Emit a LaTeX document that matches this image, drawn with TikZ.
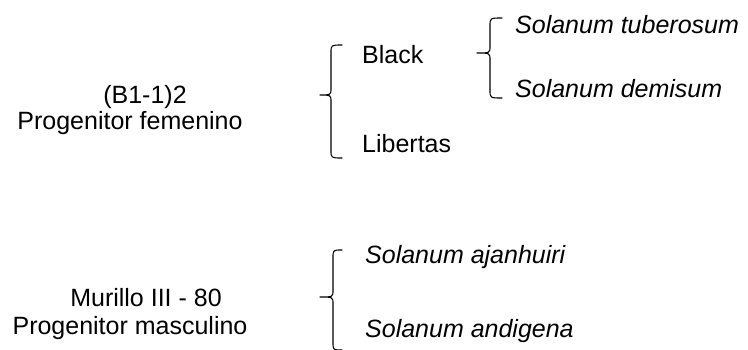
\documentclass[tikz,border=0pt]{standalone}
\usepackage{fontspec}
\setmainfont{Liberation Sans}
\newcommand\mybrace[7]{% name, x tip, x stem, x end, y top, y tip, y bottom
  \draw[bracestyle] (#4,#5) .. controls (#3,#5) .. (#3,#5+8)
    -- (#3,#6-7) .. controls (#3,#6) .. (#2,#6)
    .. controls (#3,#6) .. (#3,#6+7)
    -- (#3,#7-8) .. controls (#3,#7) .. (#4,#7);
  \coordinate (#1) at (#2,#6);
}
\begin{document}
\begin{tikzpicture}[x=1pt,y=-1pt,
  lbl/.style={inner sep=0pt,font=\fontsize{25}{30}\selectfont},
  leftlbl/.style={lbl,anchor=base west},
  midlbl/.style={lbl,anchor=base},
  species/.style={leftlbl,font=\fontsize{25}{30}\selectfont\itshape},
  bracestyle/.style={line width=1.1pt,line cap=round,line join=round}]
\useasboundingbox (0,0) rectangle (748,349);

% female parent and its two lines
\node[midlbl] (fcode) at (145,103) {(B1-1)2};
\node[midlbl] (fname) at (130,129) {Progenitor femenino};
\mybrace{fbrace}{320}{331}{342}{45}{95}{158}
\node[leftlbl] (black) at (362,63) {Black};
\node[leftlbl] (libertas) at (362,152) {Libertas};

% species behind Black
\mybrace{bbrace}{477}{490}{502}{18}{53}{98}
\node[species] (tuber) at (515,33) {Solanum tuberosum};
\node[species] (demis) at (515,97) {Solanum demisum};

% male parent
\node[midlbl] (mcode) at (146,306) {Murillo III - 80};
\node[midlbl] (mname) at (130,334) {Progenitor masculino};
\mybrace{mbrace}{320}{333}{342}{250}{297}{350}
\node[species] (ajan) at (365,263) {Solanum ajanhuiri};
\node[species] (andi) at (365,337) {Solanum andigena};
\end{tikzpicture}
\end{document}
